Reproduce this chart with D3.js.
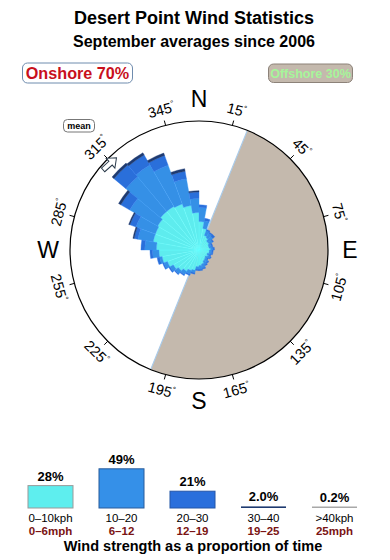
<!DOCTYPE html>
<html>
<head>
<meta charset="utf-8">
<script src="https://cdn.jsdelivr.net/npm/d3@7"></script>
<style>
  body { margin: 0; background: #fff; }
  text { font-family: "Liberation Sans", Arial, sans-serif; }
</style>
</head>
<body>
<script>
// Direction bins (bin centre, degrees) and % of time per speed class
const dirs = [5, 15, 25, 35, 45, 55, 65, 75, 85, 95, 105, 115, 125, 135, 145, 155, 165, 175,
              185, 195, 205, 215, 225, 235, 245, 255, 265, 275, 285, 295, 305, 315, 325, 335, 345, 355];
const calm   = [2.2, 1.7, 1.2, 1.1, 0.9, 0.9, 0.8, 0.8, 0.9, 0.8, 0.8, 0.7, 0.8, 0.7, 0.8, 0.9, 1.1, 1.2,
                1.3, 1.6, 1.7, 1.9, 2.1, 2.3, 2.6, 2.9, 3.1, 3.3, 3.6, 3.6, 3.7, 3.9, 3.9, 3.8, 3.5, 2.9];
const light  = [1.1, 0.6, 0.4, 0.4, 0.5, 0.3, 0.2, 0.2, 0.2, 0.2, 0.2, 0.2, 0.2, 0.2, 0.3, 0.3, 0.3, 0.3,
                0.2, 0.2, 0.3, 0.3, 0.3, 0.3, 0.3, 0.2, 0.5, 0.9, 1.2, 1.6, 2.5, 3.5, 3.7, 3.2, 2.1, 1.1];
const fresh  = [0.2, 0.2, 0.1, 0.1, 0.2, 0.1, 0.1, 0.1, 0.1, 0.1, 0.1, 0.1, 0.1, 0.1, 0.1, 0.1, 0.1, 0.1,
                0.1, 0.1, 0.1, 0.1, 0.1, 0.1, 0.1, 0.2, 0.2, 0.3, 0.3, 0.5, 0.8, 1.2, 0.9, 0.8, 0.6, 0.5];
const strong = [0, 0, 0, 0, 0, 0, 0, 0, 0, 0, 0, 0, 0, 0, 0, 0, 0, 0,
                0, 0, 0, 0, 0, 0, 0, 0, 0, 0, 0.1, 0.1, 0.2, 0.2, 0.2, 0.2, 0.2, 0.1];

// Speed classes for the legend
const kphLabels = ["0\u201310kph", "10\u201320", "20\u201330", "30\u201340", ">40kph"];
const mphLabels = ["0\u20136mph", "6\u201312", "12\u201319", "19\u201325", "25mph"];
const shares = [28, 49, 21, 2.0, 0.2];

const tickAngles = [15, 45, 75, 105, 135, 165, 195, 225, 255, 285, 315, 345];
const compass = [["N", 0], ["E", 90], ["S", 180], ["W", 270]];
const offshore = [22, 202];   // offshore sector, degrees
const meanDir = 314;

const width = 390, height = 560;
const cx = 199, cy = 250, R = 129;
const colors = ["#5eecee", "#3590e6", "#2a6fda", "#1e3a70"];
const rad = a => a * Math.PI / 180;
const pt = (a, r) => [cx + r * Math.sin(rad(a)), cy - r * Math.cos(rad(a))];

const svg = d3.select("body").append("svg")
    .attr("width", width)
    .attr("height", height);

// Titles
svg.append("text").attr("x", 194).attr("y", 24).attr("text-anchor", "middle")
    .attr("font-size", 18).attr("font-weight", "bold").text("Desert Point Wind Statistics");
svg.append("text").attr("x", 194).attr("y", 46.5).attr("text-anchor", "middle")
    .attr("font-size", 16).attr("font-weight", "bold").text("September averages since 2006");

// Onshore / offshore badges
svg.append("rect").attr("x", 22.5).attr("y", 63).attr("width", 110).attr("height", 20).attr("rx", 5)
    .attr("fill", "#fff").attr("stroke", "#6f8cae");
svg.append("text").attr("x", 77.5).attr("y", 79).attr("text-anchor", "middle")
    .attr("font-size", 16.2).attr("font-weight", "bold").attr("fill", "#c8101c").text("Onshore 70%");
svg.append("rect").attr("x", 268.5).attr("y", 64).attr("width", 84).attr("height", 18.5).attr("rx", 5)
    .attr("fill", "#c4b9ad").attr("stroke", "#8c8279");
svg.append("text").attr("x", 310.5).attr("y", 77.5).attr("text-anchor", "middle")
    .attr("font-size", 12.5).attr("font-weight", "bold").attr("fill", "#a6f59a").text("Offshore 30%");

// Offshore sector
const g = svg.append("g");
g.append("path")
    .attr("transform", `translate(${cx},${cy})`)
    .attr("d", d3.arc()({ innerRadius: 0, outerRadius: R, startAngle: rad(offshore[0]), endAngle: rad(offshore[1]) }))
    .attr("fill", "#c4b9ad");
const e0 = pt(offshore[0], R), e1 = pt(offshore[1], R);
g.append("line")
    .attr("x1", e0[0]).attr("y1", e0[1]).attr("x2", e1[0]).attr("y2", e1[1])
    .attr("stroke", "#a9cbea").attr("stroke-width", 1.2);

// Rose petals, stacked by speed class
const rows = dirs.map((d, i) => ({ dir: d, calm: calm[i], light: light[i], fresh: fresh[i], strong: strong[i] }));
const stack = d3.stack().keys(["calm", "light", "fresh", "strong"]);
const series = stack(rows);
const r = d3.scaleLinear().domain([0, 10]).range([0, R]);
const petal = d3.arc()
    .innerRadius(d => r(d[0]))
    .outerRadius(d => r(d[1]))
    .startAngle(d => rad(d.data.dir - 5))
    .endAngle(d => rad(d.data.dir + 5));

g.append("g")
    .attr("transform", `translate(${cx},${cy})`)
    .selectAll("g")
    .data(series)
    .join("g")
    .attr("fill", (d, i) => colors[i])
    .attr("stroke", (d, i) => d3.color(colors[i]).brighter(0.25))
    .attr("stroke-width", 0.4)
    .selectAll("path")
    .data(d => d.filter(v => v[1] > v[0]))
    .join("path")
    .attr("d", petal);

// Outer ring and ticks
g.append("circle").attr("cx", cx).attr("cy", cy).attr("r", R)
    .attr("fill", "none").attr("stroke", "#000").attr("stroke-width", 1.2);

g.selectAll(".tick")
    .data(tickAngles)
    .join("line")
    .attr("class", "tick")
    .attr("x1", d => pt(d, R)[0]).attr("y1", d => pt(d, R)[1])
    .attr("x2", d => pt(d, R + 5)[0]).attr("y2", d => pt(d, R + 5)[1])
    .attr("stroke", "#000");

const tl = g.selectAll(".tlabel")
    .data(tickAngles)
    .join("text")
    .attr("class", "tlabel")
    .attr("text-anchor", "middle")
    .attr("dominant-baseline", "central")
    .attr("font-size", 14.5)
    .attr("transform", d => {
        const p = pt(d, R + 16);
        const rot = (d <= 90 || d >= 270) ? d : d - 180;
        return `translate(${p[0]},${p[1]}) rotate(${rot})`;
    });
tl.append("tspan").text(d => d);
tl.append("tspan").attr("font-size", 8).attr("dy", -4).text("\u00b0");

g.selectAll(".compass")
    .data(compass)
    .join("text")
    .attr("class", "compass")
    .attr("x", d => pt(d[1], 151)[0])
    .attr("y", d => pt(d[1], 151)[1])
    .attr("text-anchor", "middle")
    .attr("dominant-baseline", "central")
    .attr("font-size", 23)
    .text(d => d[0]);

// Mean direction marker
const mp = pt(meanDir, 124);
g.append("path")
    .attr("transform", `translate(${mp[0]},${mp[1]}) rotate(-42)`)
    .attr("d", "M-9,-2.5L1,-2.5L1,-6.5L9,0L1,6.5L1,2.5L-9,2.5Z")
    .attr("fill", "#fff").attr("stroke", "#2b3b4b").attr("stroke-width", 1);
svg.append("rect").attr("x", 63.5).attr("y", 119.5).attr("width", 31).attr("height", 12.5).attr("rx", 4)
    .attr("fill", "#fff").attr("stroke", "#777");
svg.append("text").attr("x", 79).attr("y", 129).attr("text-anchor", "middle")
    .attr("font-size", 9).attr("font-weight", "bold").text("mean");

// Legend: share of time per speed class
const base = 508;
const x = d3.scaleBand().domain(kphLabels).range([15, 370]).paddingInner(0.366).paddingOuter(0.183);
const h = d3.scaleLinear().domain([0, 50]).range([0, 40]);
const legendFill = ["#5eeeee", "#3590e8", "#2a6fdc", "#1e3a70", "#a8a8a8"];
const legendStroke = ["#9a9a9a", "#2a5c9c", "#2556a8", "#1e3a70", "#a8a8a8"];

const lg = svg.append("g");
lg.selectAll("rect")
    .data(shares)
    .join("rect")
    .attr("x", (d, i) => x(kphLabels[i]))
    .attr("width", x.bandwidth())
    .attr("y", d => base - Math.max(h(d), 1.5))
    .attr("height", d => Math.max(h(d), 1.5))
    .attr("fill", (d, i) => legendFill[i])
    .attr("stroke", (d, i) => legendStroke[i])
    .attr("stroke-width", (d, i) => i < 3 ? 1 : 0);

lg.selectAll(".pct")
    .data(shares)
    .join("text")
    .attr("class", "pct")
    .attr("x", (d, i) => x(kphLabels[i]) + x.bandwidth() / 2)
    .attr("y", d => base - Math.max(h(d), 1.5) - 5)
    .attr("text-anchor", "middle")
    .attr("font-size", 13)
    .attr("font-weight", "bold")
    .text(d => (d >= 10 ? d : d.toFixed(1)) + "%");

lg.selectAll(".kph")
    .data(kphLabels)
    .join("text")
    .attr("class", "kph")
    .attr("x", d => x(d) + x.bandwidth() / 2)
    .attr("y", 521.5)
    .attr("text-anchor", "middle")
    .attr("font-size", 11.5)
    .text(d => d);

lg.selectAll(".mph")
    .data(mphLabels)
    .join("text")
    .attr("class", "mph")
    .attr("x", (d, i) => x(kphLabels[i]) + x.bandwidth() / 2)
    .attr("y", 535)
    .attr("text-anchor", "middle")
    .attr("font-size", 11.5)
    .attr("font-weight", "bold")
    .attr("fill", "#7a1414")
    .text(d => d);

svg.append("text").attr("x", 193).attr("y", 551).attr("text-anchor", "middle")
    .attr("font-size", 14.5).attr("font-weight", "bold").text("Wind strength as a proportion of time");
</script>
</body>
</html>
